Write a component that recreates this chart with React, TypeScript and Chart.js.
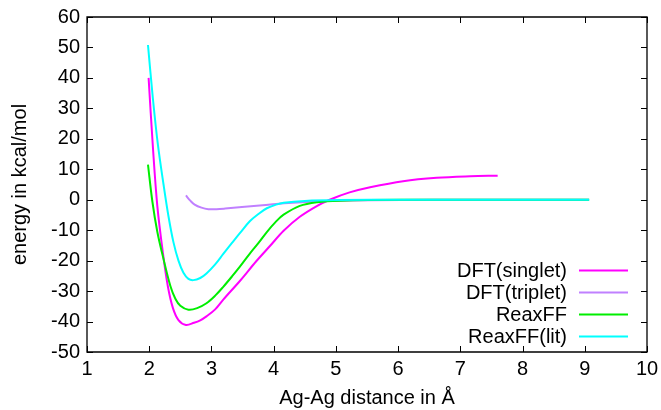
import React, { useEffect, useRef } from "react";
import { Chart, registerables } from "chart.js";

Chart.register(...registerables);

const X_TICKS = [1, 2, 3, 4, 5, 6, 7, 8, 9, 10];
const Y_TICKS = [-50, -40, -30, -20, -10, 0, 10, 20, 30, 40, 50, 60];

const SERIES_NAMES = ["DFT(singlet)", "DFT(triplet)", "ReaxFF", "ReaxFF(lit)"];
const SERIES_COLORS = ["#ff00ff", "#c080ff", "#00ee00", "#00ffff"];

const singletX = [1.99, 2.06, 2.13, 2.22, 2.3, 2.38, 2.47, 2.59, 2.72, 2.82, 2.92, 3.06, 3.19, 3.46, 3.72, 3.94, 4.16, 4.42, 4.7, 4.9, 5.22, 5.55, 6.08, 6.62, 7.16, 7.6];
const singletY = [40, 17, -2, -17.5, -28.5, -35.5, -39.5, -41.1, -40.4, -39.6, -38.3, -36.0, -32.8, -26.6, -20.2, -15.2, -10.2, -5.6, -2.0, 0, 2.4, 4.1, 6.1, 7.2, 7.7, 7.9];

const tripletX = [2.59, 2.66, 2.73, 2.84, 2.95, 3.08, 3.22, 3.49, 3.87, 4.24, 4.65, 5.05, 6.06, 7.08, 9.07];
const tripletY = [1.4, -0.3, -1.6, -2.6, -3.1, -3.1, -2.9, -2.4, -1.7, -1.1, -0.6, -0.3, -0.1, 0, 0];

const reaxX = [1.98, 2.05, 2.13, 2.23, 2.34, 2.42, 2.5, 2.63, 2.77, 2.92, 3.06, 3.19, 3.33, 3.46, 3.62, 3.76, 3.89, 4.04, 4.16, 4.42, 4.7, 5.05, 6.06, 9.07];
const reaxY = [11.5, -0.5, -10.5, -19.5, -28.3, -32.5, -34.8, -36.1, -35.6, -34, -31.5, -28.6, -25.2, -21.9, -17.6, -14.1, -10.6, -7.1, -4.9, -2.0, -0.8, -0.3, 0, 0];

const litX = [1.98, 2.06, 2.14, 2.23, 2.31, 2.39, 2.47, 2.55, 2.63, 2.71, 2.82, 2.92, 3.06, 3.19, 3.33, 3.46, 3.62, 3.76, 3.89, 4.04, 4.16, 4.5, 5.05, 6.06, 9.07];
const litY = [50.8, 33, 18, 5, -5.5, -14, -20, -24, -26, -26.4, -25.7, -24.2, -21.2, -17.8, -14.2, -10.9, -7.0, -4.6, -2.8, -1.6, -1.0, -0.4, -0.1, 0, 0];

const SERIES_X = [singletX, tripletX, reaxX, litX];
const SERIES_Y = [singletY, tripletY, reaxY, litY];

const FONT_FAMILY = '"Liberation Sans", Arial, Helvetica, sans-serif';

const frameAndLegend = {
  id: "frameAndLegend",
  afterDatasetsDraw(chart: any) {
    const { ctx, chartArea } = chart;
    const { left, right, top, bottom } = chartArea;
    const xs = chart.scales.x;
    const ys = chart.scales.y;
    ctx.save();
    ctx.strokeStyle = "#000";
    ctx.lineWidth = 1.3;
    ctx.beginPath();
    ctx.rect(left, top, right - left, bottom - top);
    ctx.stroke();
    const tl = 6;
    ctx.lineWidth = 1;
    ctx.beginPath();
    X_TICKS.forEach((v) => {
      const px = Math.round(xs.getPixelForValue(v)) + 0.5;
      ctx.moveTo(px, bottom);
      ctx.lineTo(px, bottom - tl);
      ctx.moveTo(px, top);
      ctx.lineTo(px, top + tl);
    });
    Y_TICKS.forEach((v) => {
      const py = Math.round(ys.getPixelForValue(v)) + 0.5;
      ctx.moveTo(left, py);
      ctx.lineTo(left + tl, py);
      ctx.moveTo(right, py);
      ctx.lineTo(right - tl, py);
    });
    ctx.stroke();

    // legend
    ctx.font = `20px ${FONT_FAMILY}`;
    ctx.textAlign = "right";
    ctx.textBaseline = "middle";
    const n = chart.data.datasets.length;
    const rowH = 22;
    const lastY = bottom - 15.5;
    chart.data.datasets.forEach((ds: any, i: number) => {
      const y = lastY - (n - 1 - i) * rowH;
      ctx.fillStyle = "#000";
      ctx.fillText(ds.label, right - 80, y + 1);
      ctx.strokeStyle = ds.borderColor;
      ctx.lineWidth = 2;
      ctx.beginPath();
      ctx.moveTo(right - 68, y);
      ctx.lineTo(right - 19, y);
      ctx.stroke();
    });
    ctx.restore();
  },
};

export default function App() {
  const ref = useRef<HTMLCanvasElement | null>(null);
  useEffect(() => {
    if (!ref.current) return;
    const datasets = SERIES_NAMES.map((name, i) => ({
      label: name,
      data: SERIES_X[i].map((x, j) => ({ x, y: SERIES_Y[i][j] })),
      borderColor: SERIES_COLORS[i],
      backgroundColor: SERIES_COLORS[i],
      borderWidth: 2,
      pointRadius: 0,
      fill: false,
      tension: 0.35,
      order: SERIES_NAMES.length - i,
    }));
    const chart = new Chart(ref.current, {
      type: "line",
      data: { datasets },
      options: {
        animation: false,
        responsive: true,
        maintainAspectRatio: false,
        layout: { padding: { left: 0, right: 14, top: 17, bottom: 0 } },
        plugins: { legend: { display: false }, tooltip: { enabled: false } },
        scales: {
          x: {
            type: "linear",
            min: 1,
            max: 10,
            afterBuildTicks: (s: any) => {
              s.ticks = X_TICKS.map((v) => ({ value: v }));
            },
            afterFit: (s: any) => {
              s.height = 58;
              s.paddingLeft = 0;
              s.paddingRight = 0;
            },
            grid: { display: false, drawTicks: false },
            border: { display: false },
            ticks: {
              color: "#000",
              font: { family: FONT_FAMILY, size: 20 },
              padding: 5,
              maxRotation: 0,
              autoSkip: false,
            },
            title: {
              display: true,
              text: "Ag-Ag distance in Å",
              color: "#000",
              font: { family: FONT_FAMILY, size: 20 },
              padding: { top: 0, bottom: 0 },
            },
          },
          y: {
            type: "linear",
            min: -50,
            max: 60,
            afterBuildTicks: (s: any) => {
              s.ticks = Y_TICKS.map((v) => ({ value: v }));
            },
            afterFit: (s: any) => {
              s.width = 87;
              s.paddingTop = 0;
              s.paddingBottom = 0;
            },
            grid: { display: false, drawTicks: false },
            border: { display: false },
            ticks: {
              color: "#000",
              font: { family: FONT_FAMILY, size: 20 },
              padding: 7,
              autoSkip: false,
            },
            title: {
              display: true,
              text: "energy in kcal/mol",
              color: "#000",
              font: { family: FONT_FAMILY, size: 20 },
              padding: { top: 8, bottom: 0 },
            },
          },
        },
      },
      plugins: [frameAndLegend],
    });
    return () => chart.destroy();
  }, []);
  return (
    <div style={{ position: "absolute", left: 0, top: 0, width: 661, height: 410, background: "#fff" }}>
      <canvas ref={ref} />
    </div>
  );
}
